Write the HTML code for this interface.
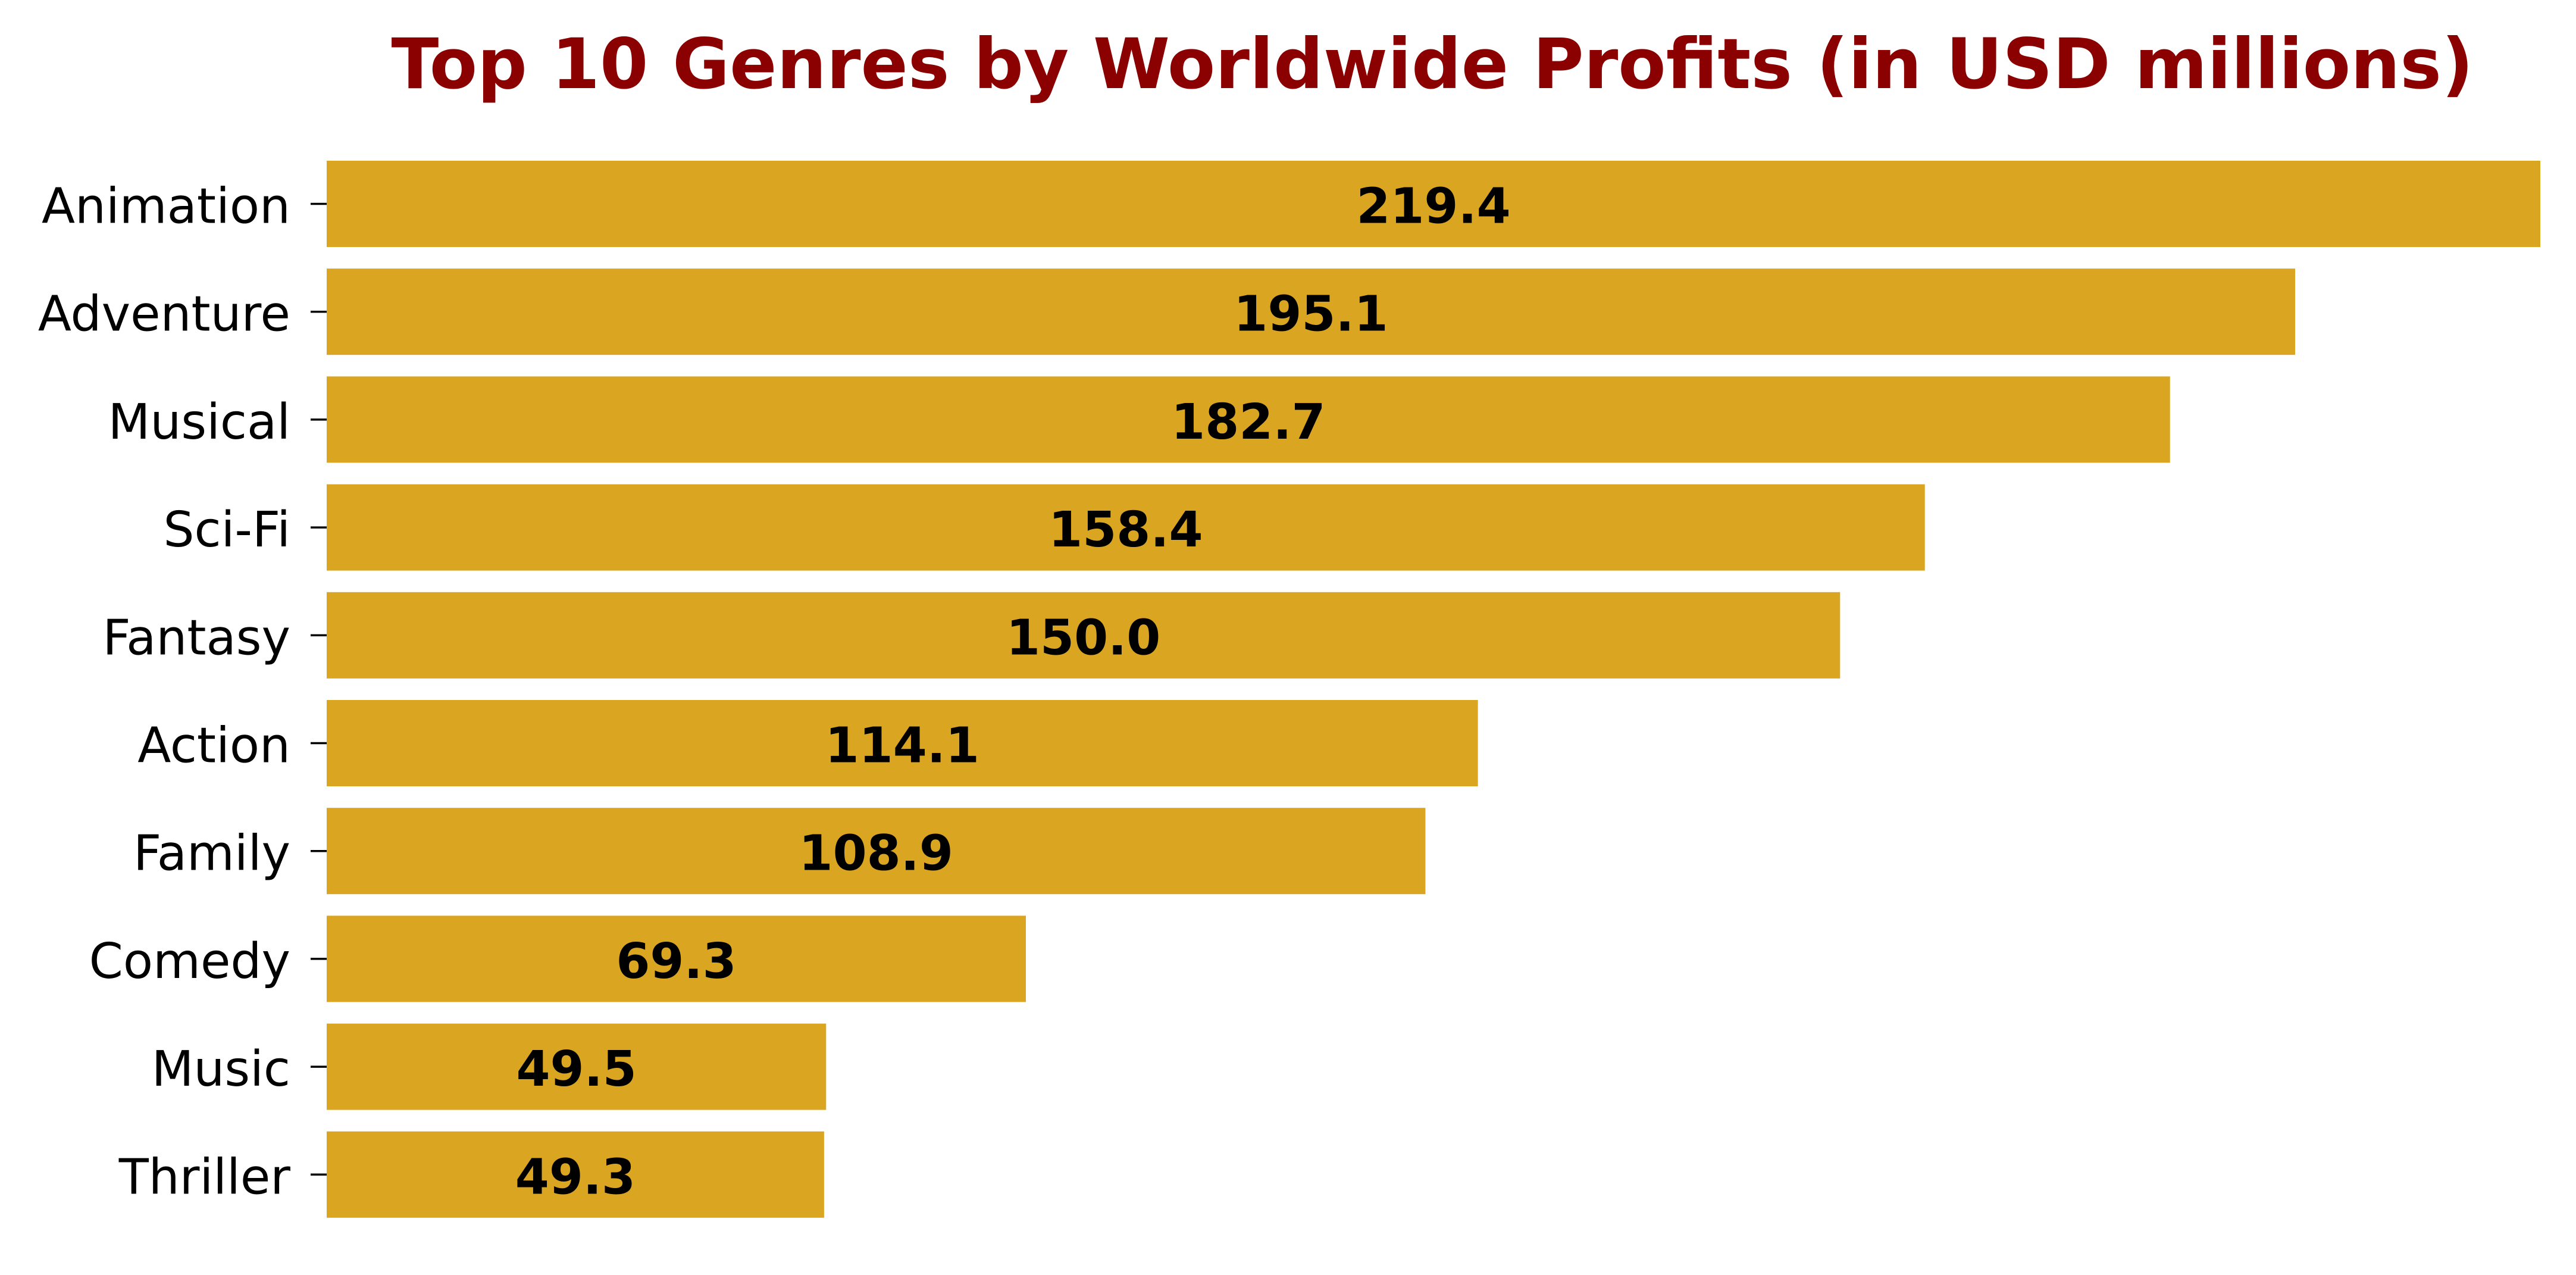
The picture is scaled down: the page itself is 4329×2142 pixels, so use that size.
<!DOCTYPE html>
<html><head><meta charset="utf-8"><style>html,body{margin:0;padding:0;background:#fff;}svg{display:block;}</style></head>
<body>
<svg id="chart" width="4329" height="2142" xmlns="http://www.w3.org/2000/svg">
<rect width="4329" height="2142" fill="#fff"/>
<text x="2407" y="148" text-anchor="middle" font-family="DejaVu Sans, Liberation Sans, sans-serif" font-weight="bold" font-size="117" fill="#8B0000">Top 10 Genres by Worldwide Profits (in USD millions)</text>
<g id="bars"></g>
</svg>
<script>
const categories = ["Animation","Adventure","Musical","Sci-Fi","Fantasy","Action","Family","Comedy","Music","Thriller"];
const values = [219.4,195.1,182.7,158.4,150.0,114.1,108.9,69.3,49.5,49.3];
const valueLabels = ["219.4","195.1","182.7","158.4","150.0","114.1","108.9","69.3","49.5","49.3"];
const NS = "http://www.w3.org/2000/svg";
const xMin = 0, xMax = 219.4, left = 549, right = 4269;
const top0 = 270, pitch = 181.2, barH = 145;
function xs(v){ return left + (v - xMin) / (xMax - xMin) * (right - left); }
function yc(i){ return top0 + barH/2 + i*pitch; }
const g = document.getElementById("bars");
categories.forEach((c,i)=>{
  const r = document.createElementNS(NS,"rect");
  
  
  r.setAttribute("x", xs(0)); r.setAttribute("y", yc(i)-barH/2);
  r.setAttribute("width", xs(values[i])-xs(0)); r.setAttribute("height", barH);
  r.setAttribute("fill", "#DAA520");
  g.appendChild(r);
  const t = document.createElementNS(NS,"line");
  
  
  t.setAttribute("x1", left-27); t.setAttribute("x2", left);
  t.setAttribute("y1", yc(i)); t.setAttribute("y2", yc(i));
  t.setAttribute("stroke", "#000"); t.setAttribute("stroke-width", 3.5);
  g.appendChild(t);
  const l = document.createElementNS(NS,"text");
  
  
  l.setAttribute("x", 488); l.setAttribute("y", yc(i)+32);
  l.setAttribute("text-anchor", "end");
  l.setAttribute("font-family", "DejaVu Sans, Liberation Sans, sans-serif");
  l.setAttribute("font-size", "82");
  l.textContent = c;
  g.appendChild(l);
  const v = document.createElementNS(NS,"text");
  
  
  v.setAttribute("x", (xs(0)+xs(values[i]))/2); v.setAttribute("y", yc(i)+32);
  v.setAttribute("text-anchor", "middle");
  v.setAttribute("font-family", "DejaVu Sans, Liberation Sans, sans-serif");
  v.setAttribute("font-weight", "bold");
  v.setAttribute("font-size", "82");
  v.textContent = valueLabels[i];
  g.appendChild(v);
});
</script>
</body></html>
